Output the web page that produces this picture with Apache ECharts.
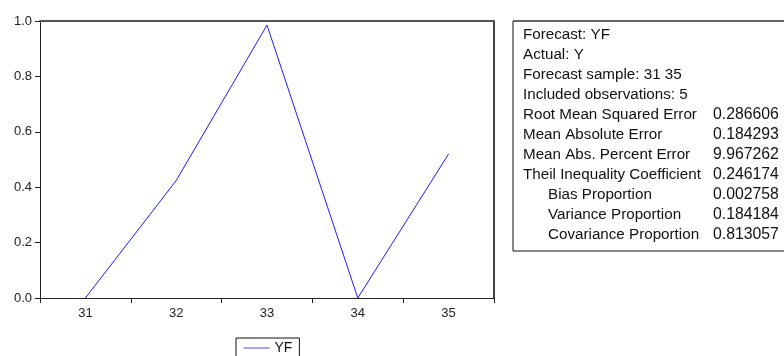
<!DOCTYPE html>
<html>
<head>
<meta charset="utf-8">
<script src="https://cdn.jsdelivr.net/npm/echarts@6/dist/echarts.min.js"></script>
<style>
html,body{margin:0;padding:0;background:#fff;}
#chart{width:784px;height:356px;}
</style>
</head>
<body>
<div id="chart"></div>
<script>
const categories = ['31', '32', '33', '34', '35'];
const yfValues = [0.0, 0.424, 0.985, 0.0, 0.52];
const yTicks = [0.0, 0.2, 0.4, 0.6, 0.8, 1.0];
const statLabels = [
  'Forecast: YF',
  'Actual: Y',
  'Forecast sample: 31 35',
  'Included observations: 5',
  'Root Mean Squared Error',
  'Mean Absolute Error',
  'Mean Abs. Percent Error',
  'Theil Inequality Coefficient',
  'Bias Proportion',
  'Variance Proportion',
  'Covariance Proportion'
];
const statValues = ['', '', '', '', '0.286606', '0.184293', '9.967262', '0.246174', '0.002758', '0.184184', '0.813057'];
const statIndent = [false, false, false, false, false, false, false, false, true, true, true];

const chart = echarts.init(document.getElementById('chart'), null, {renderer: 'canvas'});
const font = 'Liberation Sans, Arial, sans-serif';

const tableChildren = [
  {type: 'rect', shape: {x: 513, y: 21, width: 300, height: 230},
   style: {fill: '#fff', stroke: '#111', lineWidth: 1}},
  {type: 'line', shape: {x1: 513, y1: 21, x2: 800, y2: 21},
   style: {stroke: '#666', lineWidth: 2}}
];
statLabels.forEach((lab, i) => {
  tableChildren.push({
    type: 'text', x: statIndent[i] ? 548 : 523, y: 35 + 20 * i,
    style: {text: lab, font: '15.2px ' + font, fill: '#111', verticalAlign: 'middle'}
  });
  if (statValues[i]) {
    tableChildren.push({
      type: 'text', x: 713, y: 35 + 20 * i,
      style: {text: statValues[i], font: '15.8px ' + font, fill: '#111', verticalAlign: 'middle'}
    });
  }
});

chart.setOption({
  animation: false,
  backgroundColor: '#fff',
  textStyle: {fontFamily: font},
  grid: {left: 40, top: 21, right: 290, bottom: 58, containLabel: false},
  legend: {
    data: ['YF'],
    left: 236, top: 338,
    borderColor: '#111', borderWidth: 1,
    padding: [3, 7, 3, 7],
    itemWidth: 26, itemHeight: 14, itemGap: 10,
    itemStyle: {color: 'rgba(0,0,0,0)', borderWidth: 0, opacity: 0},
    lineStyle: {color: '#4d4dff', width: 1},
    textStyle: {fontSize: 14, color: '#111', fontFamily: font}
  },
  xAxis: [{
    type: 'category', data: categories, boundaryGap: true,
    axisLine: {lineStyle: {color: '#222', width: 1}},
    axisTick: {show: true, length: 5, lineStyle: {color: '#222'}},
    axisLabel: {fontSize: 13, color: '#222', margin: 9, fontFamily: font},
    splitLine: {show: false}
  }, {
    type: 'category', data: categories, position: 'top', boundaryGap: true,
    axisLine: {show: true, onZero: false, lineStyle: {color: '#555', width: 2}},
    axisTick: {show: false}, axisLabel: {show: false}
  }],
  yAxis: [{
    type: 'value', min: 0, max: 1, interval: 0.2,
    axisLine: {show: true, lineStyle: {color: '#222', width: 1}},
    axisTick: {show: true, length: 5, lineStyle: {color: '#222'}},
    axisLabel: {fontSize: 13, color: '#222', margin: 8, fontFamily: font,
      formatter: v => v.toFixed(1)},
    splitLine: {show: false}
  }, {
    type: 'value', min: 0, max: 1, interval: 0.2, position: 'right',
    axisLine: {show: true, onZero: false, lineStyle: {color: '#444', width: 2}},
    axisTick: {show: false}, axisLabel: {show: false}, splitLine: {show: false}
  }],
  series: [{
    name: 'YF', type: 'line', data: yfValues,
    symbol: 'none',
    lineStyle: {color: '#1a1aff', width: 1},
    itemStyle: {color: '#1a1aff'}
  }],
  graphic: [{type: 'group', children: tableChildren}]
});
</script>
</body>
</html>
